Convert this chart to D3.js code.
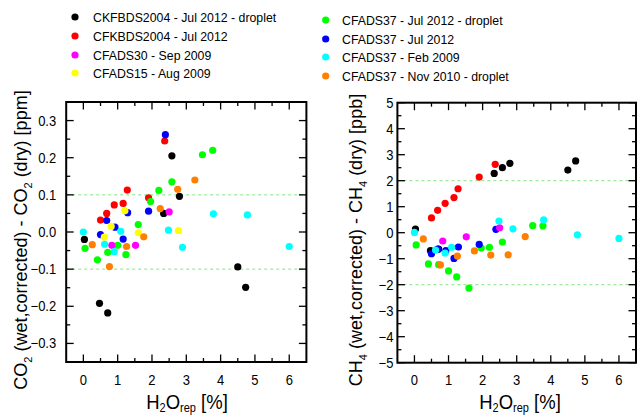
<!DOCTYPE html>
<html><head><meta charset="utf-8">
<script src="https://cdn.jsdelivr.net/npm/d3@7"></script>
<style>body{margin:0;background:#fff}text{font-family:"Liberation Sans",Arial,sans-serif}</style>
</head><body><svg id="c" width="638" height="418"></svg>
<script>
// ---- data ----
const seriesNames = ["CKFBDS2004 - Jul 2012 - droplet","CFKBDS2004 - Jul 2012","CFADS30 - Sep 2009","CFADS15 - Aug 2009",
  "CFADS37 - Jul 2012 - droplet","CFADS37 - Jul 2012","CFADS37 - Feb 2009","CFADS37 - Nov 2010 - droplet"];
const seriesColors = ["#000000","#ff0000","#ff00ff","#ffff00","#00ff00","#0000ff","#00ffff","#ff8000"];
const h2oBlack = [0.03,0.47,0.71,2.34,2.58,2.80,4.50,4.73];
const co2Black = [-0.020,-0.192,-0.218,0.050,0.205,0.096,-0.094,-0.149];
const ch4Black = [0.14,-0.69,-0.63,2.28,2.50,2.67,2.41,2.76];
const h2oRed = [0.50,0.68,0.90,1.16,1.28,1.90,2.37];
const co2Red = [0.032,0.050,0.073,0.077,0.113,0.092,0.245];
const ch4Red = [0.57,0.86,1.13,1.35,1.69,2.14,2.63];
const h2oMagenta = [0.83,1.52,2.50];
const co2Magenta = [-0.036,-0.036,0.054];
const ch4Magenta = [-0.32,-0.16,0.19];
const h2oYellow = [0.61,0.81,1.21,1.60,2.77];
const co2Yellow = [-0.014,0.015,0.057,-0.002,0.004];
const ch4Yellow = [];
const h2oGreen = [0.05,0.41,0.71,1.00,1.24,1.60,1.96,2.20,2.58,3.47,3.77];
const co2Green = [-0.044,-0.075,-0.055,-0.036,-0.061,0.020,0.082,0.112,0.135,0.208,0.220];
const ch4Green = [-0.47,-1.20,-1.23,-1.47,-1.70,-2.13,-0.59,-0.56,-0.36,0.27,0.26];
const h2oBlue = [0.50,0.68,0.92,1.16,1.29,1.90,2.39];
const co2Blue = [-0.007,0.031,0.013,-0.019,0.052,0.056,0.262];
const ch4Blue = [-0.81,-0.63,-0.69,-0.99,-0.55,-0.45,0.13];
const h2oCyan = [0.00,0.62,0.90,1.09,2.48,2.89,3.79,4.78,6.00];
const co2Cyan = [0.000,-0.033,-0.053,0.002,0.005,-0.041,0.049,0.046,-0.039];
const ch4Cyan = [0.01,-0.67,-0.78,-0.56,0.45,0.15,0.49,-0.08,-0.22];
const h2oOrange = [0.26,0.76,1.26,1.76,2.24,2.75,3.25];
const co2Orange = [-0.034,-0.093,-0.039,-0.013,0.063,0.115,0.140];
const ch4Orange = [-0.24,-1.24,-0.90,-0.70,-0.86,-0.85,-0.15];
const xTicks = [0,1,2,3,4,5,6];
const co2Ticks = [-0.3,-0.2,-0.1,0.0,0.1,0.2,0.3];
const ch4Ticks = [-5,-4,-3,-2,-1,0,1,2,3,4,5];
const co2Limits = [-0.1,0.1];
const ch4Limits = [-2,2];

const xs = [h2oBlack,h2oRed,h2oMagenta,h2oYellow,h2oGreen,h2oBlue,h2oCyan,h2oOrange];
const co2s = [co2Black,co2Red,co2Magenta,co2Yellow,co2Green,co2Blue,co2Cyan,co2Orange];
const ch4s = [ch4Black,ch4Red,ch4Magenta,ch4Yellow,ch4Green,ch4Blue,ch4Cyan,ch4Orange];
const drawOrder = [0,1,4,5,2,3,6,7];

const svg = d3.select("#c");

// ---- legend ----
const legendPos = [[75,93,17],[75,93,36],[75,93,55],[75,93,73],[325.7,342,20],[325.7,342,39],[325.7,342,57],[325.7,342,76]];
seriesNames.forEach((n,i)=>{
  const p = legendPos[i];
  svg.append("circle").attr("cx",p[0]).attr("cy",p[2]).attr("r",3.6).attr("fill",seriesColors[i]);
  svg.append("text").attr("transform",`translate(${p[1]},${p[2]+4.8}) scale(1,1.08)`).attr("font-size",12.3).attr("fill","#000").text(n);
});

function panel(opt){
  const g = svg.append("g");
  const x = d3.scaleLinear().domain([-0.5,6.5]).range(opt.xr);
  const y = d3.scaleLinear().domain(opt.yd).range(opt.yr);
  const [x0,x1] = opt.xr, [y1,y0] = opt.yr;
  opt.limits.forEach(v=>{
    g.append("line").attr("x1",x0).attr("x2",x1).attr("y1",y(v)).attr("y2",y(v))
     .attr("stroke","#80e680").attr("stroke-width",1).attr("stroke-dasharray","3,3");
  });
  const xMajor = opt.xTicks, xMinor = d3.range(0.5,6.5,1);
  const yMajor = opt.yTicks;
  const yMinor = opt.yMinor;
  const tk = g.append("g").attr("stroke","#000").attr("stroke-width",1.3);
  const addX = (vals,len)=>vals.forEach(v=>{
    tk.append("line").attr("x1",x(v)).attr("x2",x(v)).attr("y1",y1).attr("y2",y1-len);
    tk.append("line").attr("x1",x(v)).attr("x2",x(v)).attr("y1",y0).attr("y2",y0+len);
  });
  const addY = (vals,len)=>vals.forEach(v=>{
    tk.append("line").attr("y1",y(v)).attr("y2",y(v)).attr("x1",x0).attr("x2",x0+len);
    tk.append("line").attr("y1",y(v)).attr("y2",y(v)).attr("x1",x1).attr("x2",x1-len);
  });
  addX(xMajor,7.5); addX(xMinor,4); addY(yMajor,7.5); addY(yMinor,4);
  xMajor.forEach(v=>g.append("text").attr("transform",`translate(${x(v)},384.5) scale(1,1.1)`).attr("text-anchor","middle").attr("font-size",13).text(v));
  yMajor.forEach(v=>g.append("text").attr("transform",`translate(${x0-opt.labGap},${y(v)+5}) scale(1,1.1)`).attr("text-anchor","end").attr("font-size",13).text(opt.fmt(v)));
  g.append("rect").attr("x",x0).attr("y",y0).attr("width",x1-x0).attr("height",y1-y0)
   .attr("fill","none").attr("stroke","#000").attr("stroke-width",2);
  drawOrder.forEach(i=>{
    const xv = xs[i], yv = opt.ys[i];
    yv.forEach((val,j)=>{
      g.append("circle").attr("cx",x(xv[j])).attr("cy",y(val)).attr("r",3.6).attr("fill",seriesColors[i]);
    });
  });
  const xt = g.append("text").attr("transform",`translate(${opt.xtc},408.5) scale(1,1.12)`).attr("text-anchor","middle").attr("font-size",18.5);
  xt.append("tspan").text("H");
  xt.append("tspan").attr("font-size",11).attr("dy",3.5).text("2");
  xt.append("tspan").attr("dy",-3.5).text("O");
  xt.append("tspan").attr("font-size",11).attr("dy",3.5).text("rep");
  xt.append("tspan").attr("dy",-3.5).text(" [%]");
  const yt = g.append("text").attr("transform",`translate(${opt.ytx},240) rotate(-90)`).attr("text-anchor","middle").attr("font-size",18);
  yt.append("tspan").text(opt.sp[0]);
  yt.append("tspan").attr("font-size",11).attr("dy",5).text(opt.sp[1]);
  yt.append("tspan").attr("dy",-5).text(" (wet,corrected) - " + opt.sp[0]);
  yt.append("tspan").attr("font-size",11).attr("dy",5).text(opt.sp[1]);
  yt.append("tspan").attr("dy",-5).text(" (dry) [" + opt.unit + "]");
}

panel({xr:[66.2,306.4], yr:[362,102], yd:[-0.35,0.35], xTicks:xTicks, yTicks:co2Ticks,
  yMinor:d3.range(-0.35,0.351,0.1).map(v=>+v.toFixed(2)), limits:co2Limits, ys:co2s,
  fmt:d3.format(".1f"), labGap:10, xtc:187, ytx:27, sp:["CO","2"], unit:"ppm"});
panel({xr:[397.4,636], yr:[362.7,102.7], yd:[-5,5], xTicks:xTicks, yTicks:ch4Ticks,
  yMinor:d3.range(-4.5,5,1), limits:ch4Limits, ys:ch4s,
  fmt:d3.format("d"), labGap:4, xtc:520, ytx:362, sp:["CH","4"], unit:"ppb"});
</script></body></html>
